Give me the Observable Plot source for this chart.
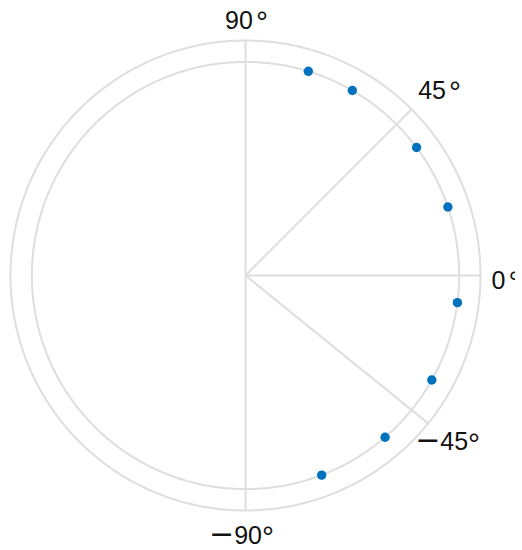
<!DOCTYPE html>
<html>
<head>
<meta charset="utf-8">
<script src="https://cdn.jsdelivr.net/npm/d3@7"></script>
<script src="https://cdn.jsdelivr.net/npm/@observablehq/plot@0.6"></script>
<style>
  html, body { margin: 0; padding: 0; background: white; }
</style>
</head>
<body>
<div id="chart"></div>
<script>
// ---- data ----
const thetaDeg = [72.9, 60.0, 36.8, 18.7, -7.3, -29.3, -49.2, -69.1];
const rho = [1, 1, 1, 1, 1, 1, 1, 1];
const rTicks = [1];
const rMax = 1.1;
const spokeAngles = [90, 45, 0, -39, -90];
const tickLabelAngles = [90, 45, 0, -45, -90];
const tickLabels = ["90\u200A°", "45\u200A°", "0\u200A°", "−45°", "−90°"];

// ---- derived tables ----
const rad = d => d * Math.PI / 180;
const points = thetaDeg.map((t, i) => ({x: rho[i] * Math.cos(rad(t)), y: rho[i] * Math.sin(rad(t))}));
const circles = [];
for (const r of [...rTicks, rMax]) {
  for (let a = 0; a <= 360; a += 1) circles.push({r, x: r * Math.cos(rad(a)), y: r * Math.sin(rad(a))});
}
const spokes = spokeAngles.map(a => ({x2: rMax * Math.cos(rad(a)), y2: rMax * Math.sin(rad(a))}));
const labelR = rMax * 247 / 235;
const labels = tickLabelAngles.map((a, i) => ({a, text: tickLabels[i], x: labelR * Math.cos(rad(a)), y: labelR * Math.sin(rad(a))}));

const grid = "#dedede";
const font = "'Liberation Sans', Arial, Helvetica, sans-serif";
const labelStyle = {
  90:  {textAnchor: "middle", lineAnchor: "bottom", dx: 1, dy: 0},
  45:  {textAnchor: "start", lineAnchor: "bottom", dx: -2, dy: -2},
  0:   {textAnchor: "start", lineAnchor: "bottom", dx: -1, dy: 13},
  "-45": {textAnchor: "start", lineAnchor: "bottom", dx: -5, dy: 0},
  "-90": {textAnchor: "middle", lineAnchor: "bottom", dx: -4, dy: 21}
};
const labelMarks = labels.map(l => Plot.text([l], {
  x: "x", y: "y", text: "text",
  fontSize: 25, fontFamily: font, fill: "#111",
  ...labelStyle[l.a]
}));

const plot = Plot.plot({
  width: 515,
  height: 550,
  marginLeft: 10,
  marginRight: 35,
  marginTop: 40,
  marginBottom: 40,
  x: {domain: [-rMax, rMax], axis: null},
  y: {domain: [-rMax, rMax], axis: null},
  style: {overflow: "hidden", background: "white"},
  marks: [
    Plot.line(circles, {x: "x", y: "y", z: "r", stroke: grid, strokeWidth: 2, curve: "linear"}),
    Plot.link(spokes, {x1: 0, y1: 0, x2: "x2", y2: "y2", stroke: grid, strokeWidth: 2}),
    Plot.dot(points, {x: "x", y: "y", r: 4.7, fill: "#0072BD", stroke: "none"}),
    ...labelMarks
  ]
});

// TeX-like label typesetting: wide minus, larger degree ring, optional small gap
d3.select(plot).selectAll("text").each(function () {
  const t = this.textContent;
  if (!t.endsWith("°")) return;
  const sel = d3.select(this);
  sel.text("");
  let body = t.slice(0, -1);
  let gap = 0;
  if (body.endsWith("\u200A")) { body = body.slice(0, -1); gap = 3; }
  if (body.startsWith("−")) {
    sel.append("tspan").attr("font-family", "DejaVu Sans").attr("font-size", 30).text("−");
    body = body.slice(1);
  }
  sel.append("tspan").text(body);
  sel.append("tspan").attr("dx", gap).attr("dy", 3.5).attr("font-size", 30).text("°");
});

document.getElementById("chart").appendChild(plot);
</script>
</body>
</html>
